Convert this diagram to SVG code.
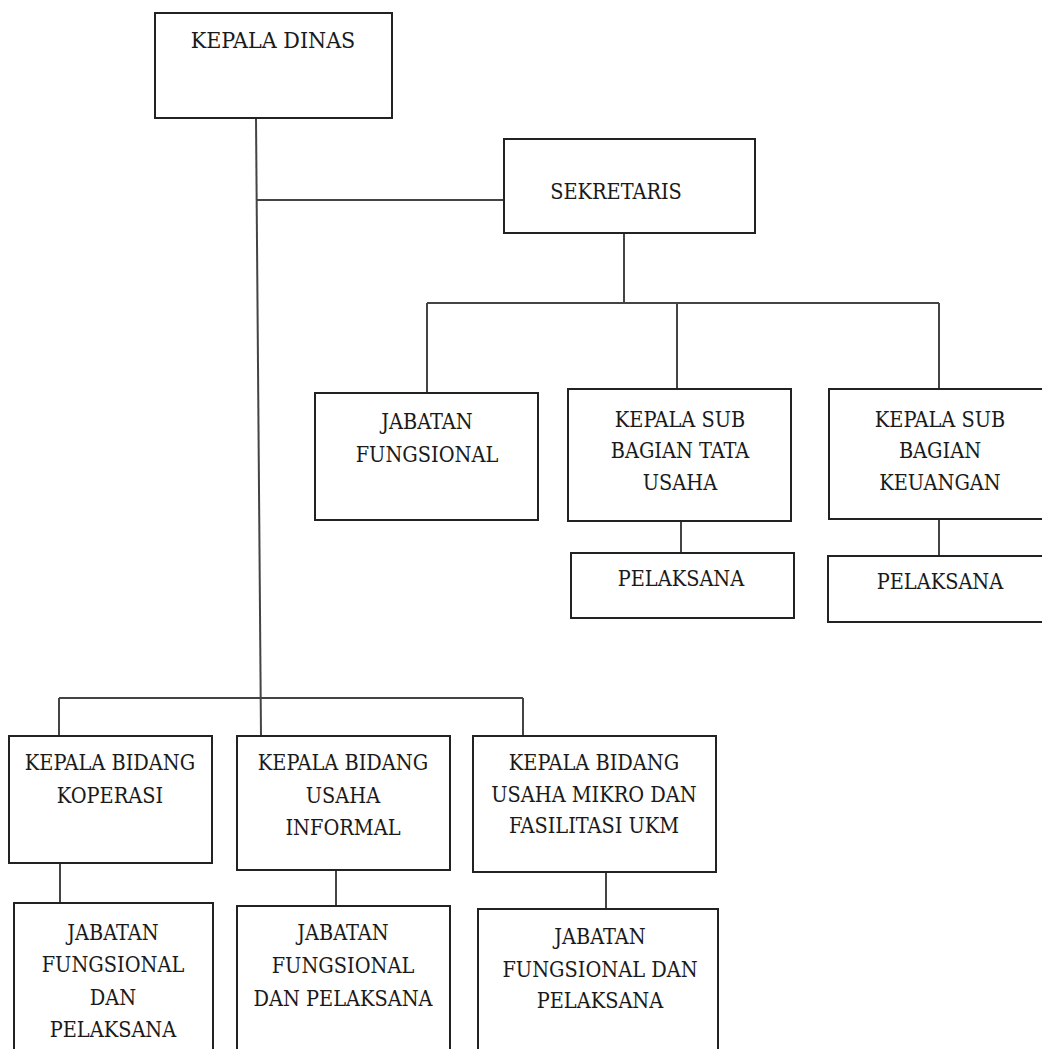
<svg xmlns="http://www.w3.org/2000/svg" width="1042" height="1049" viewBox="0 0 1042 1049">
<style>
.box{fill:#fff;stroke:#222;stroke-width:2}
.ln{fill:none;stroke:#444;stroke-width:2}
text{font-family:"DejaVu Serif Condensed","DejaVu Serif","Liberation Serif",serif;font-stretch:condensed;font-size:21.5px;fill:#1a1a1a;text-anchor:middle}
.big{font-size:23px}
</style>
<rect width="1042" height="1049" fill="#fff"/>
<g id="connectors">
<path class="ln" d="M256 118 L261 736"/>
<path class="ln" d="M257 200 H504"/>
<path class="ln" d="M624 233 V303"/>
<path class="ln" d="M427 303 H939"/>
<path class="ln" d="M427 303 V393"/>
<path class="ln" d="M677 303 V389"/>
<path class="ln" d="M939 303 V389"/>
<path class="ln" d="M681 521 V553"/>
<path class="ln" d="M939 519 V556"/>
<path class="ln" d="M59 698 H523"/>
<path class="ln" d="M59 698 V736"/>
<path class="ln" d="M523 698 V736"/>
<path class="ln" d="M60 863 V903"/>
<path class="ln" d="M336 870 V906"/>
<path class="ln" d="M606 872 V909"/>
</g>
<g id="kepala-dinas"><rect class="box" x="155" y="13" width="237" height="105"/><text class="big" x="273" y="48">KEPALA DINAS</text></g>
<g id="sekretaris"><rect class="box" x="504" y="139" width="251" height="94"/><text x="616" y="199">SEKRETARIS</text></g>
<g id="jabatan-fungsional"><rect class="box" x="315" y="393" width="223" height="127"/><text x="427" y="429">JABATAN</text><text x="427" y="462">FUNGSIONAL</text></g>
<g id="kasubag-tu"><rect class="box" x="568" y="389" width="223" height="132"/><text x="680" y="427">KEPALA SUB</text><text x="680" y="458">BAGIAN TATA</text><text x="680" y="490">USAHA</text></g>
<g id="kasubag-keu"><rect class="box" x="829" y="389" width="220" height="130"/><text x="940" y="427">KEPALA SUB</text><text x="940" y="458">BAGIAN</text><text x="940" y="490">KEUANGAN</text></g>
<g id="pelaksana-tu"><rect class="box" x="571" y="553" width="223" height="65"/><text x="681" y="586">PELAKSANA</text></g>
<g id="pelaksana-keu"><rect class="box" x="828" y="556" width="220" height="66"/><text x="940" y="589">PELAKSANA</text></g>
<g id="kabid-koperasi"><rect class="box" x="9" y="736" width="203" height="127"/><text x="110" y="770">KEPALA BIDANG</text><text x="110" y="803">KOPERASI</text></g>
<g id="kabid-informal"><rect class="box" x="237" y="736" width="213" height="134"/><text x="343" y="770">KEPALA BIDANG</text><text x="343" y="803">USAHA</text><text x="343" y="835">INFORMAL</text></g>
<g id="kabid-mikro"><rect class="box" x="473" y="736" width="243" height="136"/><text x="594" y="770">KEPALA BIDANG</text><text x="594" y="802">USAHA MIKRO DAN</text><text x="594" y="833">FASILITASI UKM</text></g>
<g id="jf-koperasi"><rect class="box" x="14" y="903" width="199" height="160"/><text x="113" y="940">JABATAN</text><text x="113" y="972">FUNGSIONAL</text><text x="113" y="1005">DAN</text><text x="113" y="1037">PELAKSANA</text></g>
<g id="jf-informal"><rect class="box" x="237" y="906" width="213" height="160"/><text x="343" y="940">JABATAN</text><text x="343" y="973">FUNGSIONAL</text><text x="343" y="1006">DAN PELAKSANA</text></g>
<g id="jf-mikro"><rect class="box" x="478" y="909" width="240" height="160"/><text x="600" y="944">JABATAN</text><text x="600" y="977">FUNGSIONAL DAN</text><text x="600" y="1008">PELAKSANA</text></g>
</svg>
